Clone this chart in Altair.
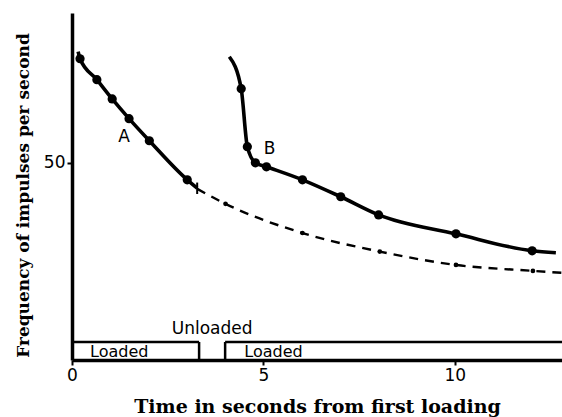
import altair as alt
import pandas as pd

# Curve A (first loading): solid line vertices and measured dots
A_line_t = [0.16, 0.21, 0.65, 1.05, 1.49, 2.02, 3.01, 3.27]
A_line_f = [78.2, 76.4, 71.1, 66.2, 61.2, 55.6, 45.7, 43.6]
A_dot_t = [0.21, 0.65, 1.05, 1.49, 2.02, 3.01]
A_dot_f = [76.4, 71.1, 66.2, 61.2, 55.6, 45.7]

# Dashed extrapolation of A
D_line_t = [3.27, 4.01, 6.02, 8.04, 10.03, 12.04, 12.8]
D_line_f = [43.4, 39.6, 32.2, 27.5, 24.1, 22.6, 22.1]
D_dot_t = [4.01, 6.02, 8.04, 10.03, 12.04]
D_dot_f = [39.6, 32.2, 27.5, 24.1, 22.6]

# Curve B (second loading)
B_line_t = [4.11, 4.42, 4.58, 4.79, 5.08, 6.02, 7.02, 8.01, 10.03, 12.02, 12.64]
B_line_f = [76.9, 68.8, 54.1, 50.0, 49.0, 45.7, 41.4, 36.8, 32.0, 27.7, 27.2]
B_dot_t = [4.42, 4.58, 4.79, 5.08, 6.02, 7.02, 8.01, 10.03, 12.02]
B_dot_f = [68.8, 54.1, 50.0, 49.0, 45.7, 41.4, 36.8, 32.0, 27.7]

# Loading periods
load_start = [0.0, 4.0]
load_end = [3.32, 12.8]
box_top = 4.57

x_ticks = [0, 5, 10]
y_ticks = [50]

XD = [0, 12.8]
YD = [0, 88]

xs = alt.Scale(domain=XD, nice=False, zero=False)
ys = alt.Scale(domain=YD, nice=False, zero=False)

lineA = pd.DataFrame({"t": A_line_t, "f": A_line_f})
lineB = pd.DataFrame({"t": B_line_t, "f": B_line_f})
lineD = pd.DataFrame({"t": D_line_t, "f": D_line_f})
dots = pd.DataFrame({"t": A_dot_t + B_dot_t, "f": A_dot_f + B_dot_f})
ddots = pd.DataFrame({"t": D_dot_t, "f": D_dot_f})

base_x = alt.X("t:Q", scale=xs,
               axis=alt.Axis(title="Time in seconds from first loading", values=x_ticks,
                             format="d", grid=False, titleY=52, titleBaseline="alphabetic",
                             titleFontSize=19, labelFlush=False))
base_y = alt.Y("f:Q", scale=ys,
               axis=alt.Axis(title="Frequency of impulses per second", values=y_ticks,
                             format="d", grid=False, titleX=-44, titleY=182,
                             titleAngle=-90, titleBaseline="alphabetic", titleAlign="center",
                             titleFontSize=17, labelFlush=False))

solidA = alt.Chart(lineA).mark_line(color="black", strokeWidth=3.6, interpolate="monotone").encode(
    x=base_x, y=base_y)
solidB = alt.Chart(lineB).mark_line(color="black", strokeWidth=3.6, interpolate="monotone").encode(
    x="t:Q", y="f:Q")
dashed = alt.Chart(lineD).mark_line(color="black", strokeWidth=2.4, strokeDash=[9, 7],
                                    interpolate="monotone").encode(x="t:Q", y="f:Q")
pts = alt.Chart(dots).mark_circle(color="black", size=85, opacity=1).encode(x="t:Q", y="f:Q")
dpts = alt.Chart(ddots).mark_circle(color="black", size=22, opacity=1).encode(x="t:Q", y="f:Q")

endtick = alt.Chart(pd.DataFrame({"t": [3.27], "f": [42.1], "f2": [45.0]})).mark_rule(
    color="black", strokeWidth=2).encode(x="t:Q", y="f:Q", y2="f2")

tops = pd.DataFrame({"t": load_start, "t2": load_end, "f": [box_top, box_top]})
top_rules = alt.Chart(tops).mark_rule(color="black", strokeWidth=2.5).encode(
    x="t:Q", x2="t2", y="f:Q")
sides = pd.DataFrame({"t": [load_end[0], load_start[1]], "f": [0, 0], "f2": [box_top, box_top]})
side_rules = alt.Chart(sides).mark_rule(color="black", strokeWidth=2.5).encode(
    x="t:Q", y="f:Q", y2="f2")

labels = pd.DataFrame({
    "t": [0.47, 4.5],
    "f": [0.76, 0.76],
    "txt": ["Loaded", "Loaded"],
})
load_txt = alt.Chart(labels).mark_text(align="left", baseline="alphabetic", font="DejaVu Sans",
                                       fontSize=16, color="black").encode(
    x="t:Q", y="f:Q", text="txt:N")
unl_txt = alt.Chart(pd.DataFrame({"t": [3.66], "f": [6.6], "txt": ["Unloaded"]})).mark_text(
    align="center", baseline="alphabetic", font="DejaVu Sans", fontSize=17, color="black").encode(
    x="t:Q", y="f:Q", text="txt:N")
ab_txt = alt.Chart(pd.DataFrame({"t": [1.36, 5.16], "f": [55.3, 52.3], "txt": ["A", "B"]})).mark_text(
    align="center", baseline="alphabetic", font="DejaVu Sans", fontSize=17, color="black").encode(
    x="t:Q", y="f:Q", text="txt:N")

chart = alt.layer(top_rules, side_rules, dashed, dpts, solidA, solidB, pts, endtick,
                  load_txt, unl_txt, ab_txt).properties(
    width=490, height=347,
    autosize=alt.AutoSizeParams(type="none"),
    padding={"left": 72, "top": 13, "right": 0, "bottom": 57},
    background="white",
).configure_view(stroke=None).configure_axis(
    domainColor="black", domainWidth=3.5, tickColor="black", tickWidth=2, tickSize=5,
    labelFont="DejaVu Sans", labelFontSize=17, labelColor="black", labelPadding=2,
    titleFont="DejaVu Serif", titleFontWeight="bold", titleColor="black",
)

chart.save("out.html", embed_options={"renderer": "svg", "actions": False})
